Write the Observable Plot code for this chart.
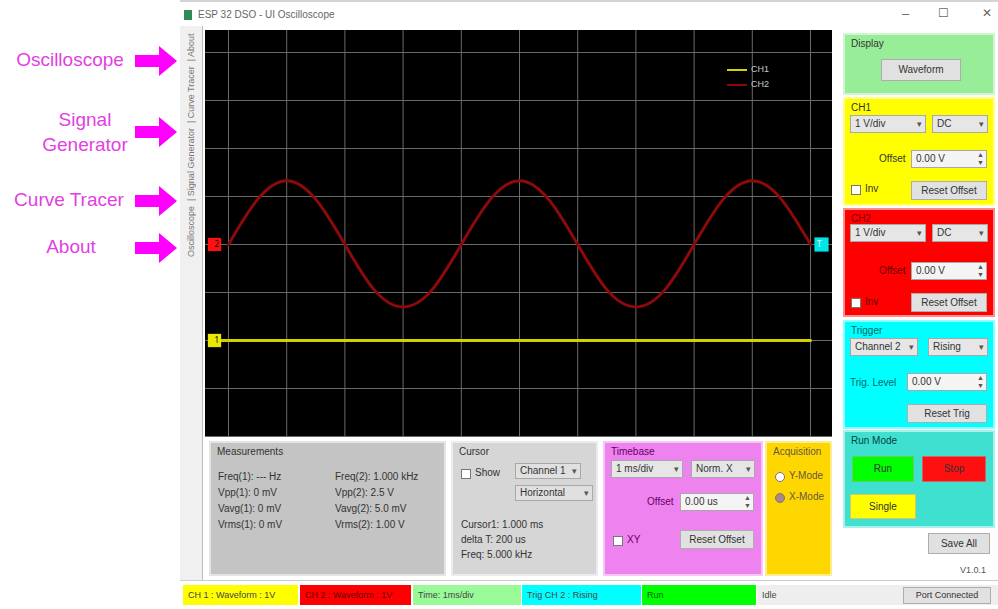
<!DOCTYPE html>
<html><head><meta charset="utf-8">
<script src="https://cdn.jsdelivr.net/npm/d3@7"></script>
<script src="https://cdn.jsdelivr.net/npm/@observablehq/plot@0.6"></script>
<style>
body{margin:0;width:998px;height:609px;overflow:hidden;background:#fff;font-family:"Liberation Sans",Arial,sans-serif;position:relative}
.a{position:absolute}
.box{position:absolute;box-sizing:border-box;border:2px solid rgba(255,255,255,0.55)}
.ttl{position:absolute;left:6px;top:3px;font-size:10px;color:#333}
.dd{position:absolute;height:18px;background:#e6e6e6;border:1px solid #a8a8a8;font-size:10px;line-height:16px;padding-left:4px;box-sizing:border-box;color:#333;white-space:nowrap}
.dd span{position:absolute;right:3px;top:0;font-size:9px;color:#555}
.sp{position:absolute;height:18px;background:#f4f4f4;border:1px solid #a8a8a8;font-size:10px;line-height:16px;padding-left:4px;box-sizing:border-box;color:#333}
.sp span{position:absolute;right:2px;top:0;font-size:7px;line-height:8px;color:#555}
.btn{position:absolute;height:19px;background:#e1e1e1;border:1px solid #adadad;font-size:10px;line-height:17px;text-align:center;box-sizing:border-box;color:#333}
.cb{position:absolute;width:10px;height:10px;background:#fff;border:1px solid #777;box-sizing:border-box}
.lbl{position:absolute;font-size:10px;color:#333;white-space:nowrap}
.nav{position:absolute;font-size:19px;color:#e23fe2;text-align:center;line-height:23px}
.st{position:absolute;top:585px;height:20px;font-size:9px;line-height:20px;padding-left:5px;box-sizing:border-box;color:#444;white-space:nowrap}
</style></head>
<body>
<script>
// ---- data ----
const timeDiv = [0,0.5,1,1.5,2,2.5,3,3.5,4,4.5,5,5.5,6,6.5,7,7.5,8,8.5,9,9.5,10];
const ch1Volts = [-2,-2,-2,-2,-2,-2,-2,-2,-2,-2,-2,-2,-2,-2,-2,-2,-2,-2,-2,-2,-2];
const ch2Volts = [0,0.94,1.33,0.94,0,-0.94,-1.3,-0.94,0,0.94,1.33,0.94,0,-0.94,-1.3,-0.94,0,0.94,1.33,0.94,0];
const xTicks = [0,1,2,3,4,5,6,7,8,9,10];
const yTicks = [-4,-3,-2,-1,0,1,2,3,4];
const channelNames = ["CH1","CH2"];
const channelColors = ["#d2d200","#8e0a0a"];
const markerLabels = ["1","2"];
const markerLevels = [-2,0];
const markerFills = ["#e8e800","#ff1010"];
const triggerLevel = [0];
const triggerLabel = ["T"];

const ch1 = timeDiv.map((t,i)=>({t, v:ch1Volts[i]}));
const ch2 = timeDiv.map((t,i)=>({t, v:ch2Volts[i]}));
const markers = markerLabels.map((l,i)=>({label:l, level:markerLevels[i], fill:markerFills[i]}));
const trig = triggerLevel.map((v,i)=>({level:v, label:triggerLabel[i]}));

const chart = Plot.plot({
  width: 627, height: 407,
  marginLeft: 23, marginRight: 22, marginTop: 22, marginBottom: 1,
  style: {background:"#000", overflow:"visible"},
  x: {domain:[0,10], axis:null},
  y: {domain:[-4,4], axis:null},
  marks: [
    Plot.gridX(xTicks, {stroke:"#6a6a6a", strokeOpacity:1, strokeWidth:1, insetTop:-22, insetBottom:-1}),
    Plot.gridY(yTicks, {stroke:"#6a6a6a", strokeOpacity:1, strokeWidth:1, insetLeft:-23, insetRight:-22}),
    Plot.line(ch1, {x:"t", y:"v", stroke:channelColors[0], strokeWidth:3}),
    Plot.ruleY(markers.slice(0,1), {y:"level", x1:-0.3, x2:0, stroke:channelColors[0], strokeWidth:3}),
    Plot.line(ch2, {x:"t", y:"v", curve:"natural", stroke:channelColors[1], strokeWidth:3}),
    Plot.dot(markers, {y:"level", frameAnchor:"left", dx:-14, symbol:"square", r:7.5, fill:"fill", stroke:"none"}),
    Plot.text(markers, {y:"level", frameAnchor:"left", dx:-14, text:"label", fill:"#000", fontSize:8}),
    Plot.dot(trig, {y:"level", frameAnchor:"right", dx:11, symbol:"square", r:8, fill:"#00e5e5", stroke:"none"}),
    Plot.text(trig, {y:"level", frameAnchor:"right", dx:11, text:"label", fill:"#fff", fontSize:8})
  ]
});
chart.style.position = "absolute";
chart.style.left = "205px";
chart.style.top = "30px";
document.body.appendChild(chart);

// legend overlay
const leg = document.createElement("div");
leg.className = "a";
leg.style.cssText = "left:727px;top:62px;font-size:9px;color:#c8c8c8;line-height:15px";
leg.innerHTML = channelNames.map((n,i)=>`<div><span style="display:inline-block;width:20px;height:2px;background:${channelColors[i]};vertical-align:middle;margin-right:4px"></span>${n}</div>`).join("");
document.body.appendChild(leg);
</script>

<!-- title bar -->
<div class="a" style="left:180px;top:0;width:818px;height:2px;background:#d4d4d4"></div>
<div class="a" style="left:184px;top:10px;width:8px;height:10px;background:#2e8b57"></div>
<div class="lbl" style="left:198px;top:9px;color:#666;font-size:10px">ESP 32 DSO - UI Oscilloscope</div>
<div class="lbl" style="left:902px;top:6px;color:#666;font-size:13px">–</div>
<div class="lbl" style="left:938px;top:6px;color:#666;font-size:12px">☐</div>
<div class="lbl" style="left:982px;top:6px;color:#666;font-size:12px">✕</div>

<!-- left nav -->
<div class="nav" style="left:5px;top:48px;width:130px">Oscilloscope</div>
<div class="nav" style="left:20px;top:108px;width:130px">Signal</div>
<div class="nav" style="left:20px;top:133px;width:130px">Generator</div>
<div class="nav" style="left:4px;top:188px;width:130px">Curve Tracer</div>
<div class="nav" style="left:6px;top:235px;width:130px">About</div>
<svg class="a" style="left:133px;top:45px" width="46" height="240">
  <g fill="#f0f">
    <path d="M2,9 h24 v-9 l18,15 l-18,15 v-9 h-24z" transform="translate(0,1)"/>
    <path d="M2,9 h24 v-9 l18,15 l-18,15 v-9 h-24z" transform="translate(0,72)"/>
    <path d="M2,9 h24 v-9 l18,15 l-18,15 v-9 h-24z" transform="translate(0,141)"/>
    <path d="M2,9 h24 v-9 l18,15 l-18,15 v-9 h-24z" transform="translate(0,188)"/>
  </g>
</svg>
<!-- vertical tab strip -->
<div class="a" style="left:180px;top:26px;width:22px;height:555px;background:#f0f0f0;border-right:1px solid #bbb"></div>
<div class="a" style="left:184px;top:32px;width:14px;height:225px;writing-mode:vertical-rl;transform:rotate(180deg);font-size:9px;color:#777;line-height:14px;white-space:nowrap">Oscilloscope &nbsp;| Signal Generator &nbsp;| Curve Tracer &nbsp;| About</div>

<!-- right panels -->
<div class="box" style="left:843px;top:33px;width:152px;height:62px;background:#98ee98">
  <div class="ttl">Display</div>
  <div class="btn" style="left:36px;top:24px;width:80px;height:22px;line-height:20px">Waveform</div>
</div>
<div class="box" style="left:843px;top:97px;width:152px;height:109px;background:#ffff00">
  <div class="ttl">CH1</div>
  <div class="dd" style="left:5px;top:16px;width:76px">1 V/div<span>▾</span></div>
  <div class="dd" style="left:87px;top:16px;width:56px">DC<span>▾</span></div>
  <div class="lbl" style="left:34px;top:54px">Offset</div>
  <div class="sp" style="left:66px;top:51px;width:76px">0.00 V<span>▲<br>▼</span></div>
  <div class="cb" style="left:6px;top:86px"></div>
  <div class="lbl" style="left:20px;top:84px">Inv</div>
  <div class="btn" style="left:66px;top:82px;width:76px">Reset Offset</div>
</div>
<div class="box" style="left:843px;top:208px;width:152px;height:109px;background:#ff0000">
  <div class="ttl" style="color:#700">CH2</div>
  <div class="dd" style="left:5px;top:14px;width:76px">1 V/div<span>▾</span></div>
  <div class="dd" style="left:87px;top:14px;width:56px">DC<span>▾</span></div>
  <div class="lbl" style="left:34px;top:55px;color:#600">Offset</div>
  <div class="sp" style="left:66px;top:52px;width:76px">0.00 V<span>▲<br>▼</span></div>
  <div class="cb" style="left:6px;top:88px"></div>
  <div class="lbl" style="left:20px;top:86px;color:#600">Inv</div>
  <div class="btn" style="left:66px;top:83px;width:76px">Reset Offset</div>
</div>
<div class="box" style="left:843px;top:320px;width:152px;height:109px;background:#00ffff">
  <div class="ttl" style="color:#066">Trigger</div>
  <div class="dd" style="left:5px;top:16px;width:68px">Channel 2<span>▾</span></div>
  <div class="dd" style="left:83px;top:16px;width:60px">Rising<span>▾</span></div>
  <div class="lbl" style="left:5px;top:55px;color:#066">Trig. Level</div>
  <div class="sp" style="left:62px;top:51px;width:80px">0.00 V<span>▲<br>▼</span></div>
  <div class="btn" style="left:62px;top:82px;width:80px">Reset Trig</div>
</div>
<div class="box" style="left:843px;top:430px;width:152px;height:98px;background:#40e0d0">
  <div class="ttl" style="color:#044">Run Mode</div>
  <div class="btn" style="left:7px;top:24px;width:62px;height:26px;line-height:24px;background:#00ff00;border-color:#6c6">Run</div>
  <div class="btn" style="left:77px;top:24px;width:64px;height:26px;line-height:24px;background:#ff1010;border-color:#c66">Stop</div>
  <div class="btn" style="left:5px;top:62px;width:66px;height:25px;line-height:23px;background:#ffff00;border-color:#cc6">Single</div>
</div>
<div class="btn" style="left:928px;top:533px;width:62px;height:21px;line-height:19px">Save All</div>
<div class="lbl" style="left:960px;top:565px;font-size:9px;color:#555">V1.0.1</div>

<!-- bottom panels -->
<div class="box" style="left:209px;top:441px;width:237px;height:135px;background:#c4c4c4">
  <div class="ttl">Measurements</div>
  <div class="lbl" style="left:7px;top:28px">Freq(1): --- Hz</div>
  <div class="lbl" style="left:7px;top:44px">Vpp(1): 0 mV</div>
  <div class="lbl" style="left:7px;top:60px">Vavg(1): 0 mV</div>
  <div class="lbl" style="left:7px;top:76px">Vrms(1): 0 mV</div>
  <div class="lbl" style="left:124px;top:28px">Freq(2): 1.000 kHz</div>
  <div class="lbl" style="left:124px;top:44px">Vpp(2): 2.5 V</div>
  <div class="lbl" style="left:124px;top:60px">Vavg(2): 5.0 mV</div>
  <div class="lbl" style="left:124px;top:76px">Vrms(2): 1.00 V</div>
</div>
<div class="box" style="left:451px;top:441px;width:147px;height:135px;background:#d6d6d6">
  <div class="ttl">Cursor</div>
  <div class="cb" style="left:8px;top:26px"></div>
  <div class="lbl" style="left:22px;top:24px">Show</div>
  <div class="dd" style="left:62px;top:20px;width:66px;height:16px;line-height:14px;background:#e0e0e0">Channel 1<span>▾</span></div>
  <div class="dd" style="left:62px;top:42px;width:78px;height:16px;line-height:14px;background:#e0e0e0">Horizontal<span>▾</span></div>
  <div class="lbl" style="left:8px;top:76px">Cursor1: 1.000 ms</div>
  <div class="lbl" style="left:8px;top:91px">delta T: 200 us</div>
  <div class="lbl" style="left:8px;top:106px">Freq: 5.000 kHz</div>
</div>
<div class="box" style="left:603px;top:441px;width:160px;height:135px;background:#ee82ee">
  <div class="ttl" style="color:#606">Timebase</div>
  <div class="dd" style="left:6px;top:17px;width:72px">1 ms/div<span>▾</span></div>
  <div class="dd" style="left:86px;top:17px;width:64px">Norm. X<span>▾</span></div>
  <div class="lbl" style="left:42px;top:53px;color:#606">Offset</div>
  <div class="sp" style="left:75px;top:50px;width:74px">0.00 us<span>▲<br>▼</span></div>
  <div class="cb" style="left:8px;top:93px"></div>
  <div class="lbl" style="left:22px;top:91px;color:#606">XY</div>
  <div class="btn" style="left:75px;top:87px;width:74px">Reset Offset</div>
</div>
<div class="box" style="left:765px;top:441px;width:67px;height:135px;background:#ffd700">
  <div class="ttl" style="color:#654">Acquisition</div>
  <div class="cb" style="left:8px;top:29px;border-radius:50%"></div>
  <div class="lbl" style="left:22px;top:27px;color:#654">Y-Mode</div>
  <div class="cb" style="left:8px;top:50px;border-radius:50%;background:#a88"></div>
  <div class="lbl" style="left:22px;top:48px;color:#654">X-Mode</div>
</div>

<!-- status bar -->
<div class="a" style="left:180px;top:580px;width:818px;height:1px;background:#ccc"></div>
<div class="st" style="left:183px;width:115px;background:#ffff00">CH 1 : Waveform : 1V</div>
<div class="st" style="left:300px;width:111px;background:#ff0000;color:#600">CH 2 : Waveform : 1V</div>
<div class="st" style="left:413px;width:108px;background:#98fb98">Time: 1ms/div</div>
<div class="st" style="left:522px;width:119px;background:#00ffff">Trig CH 2 : Rising</div>
<div class="st" style="left:642px;width:114px;background:#00ff00;color:#060">Run</div>
<div class="st" style="left:757px;width:241px;background:#eeeeee">Idle</div>
<div class="btn" style="left:903px;top:587px;width:88px;height:17px;line-height:15px;font-size:9px">Port Connected</div>
</body></html>
